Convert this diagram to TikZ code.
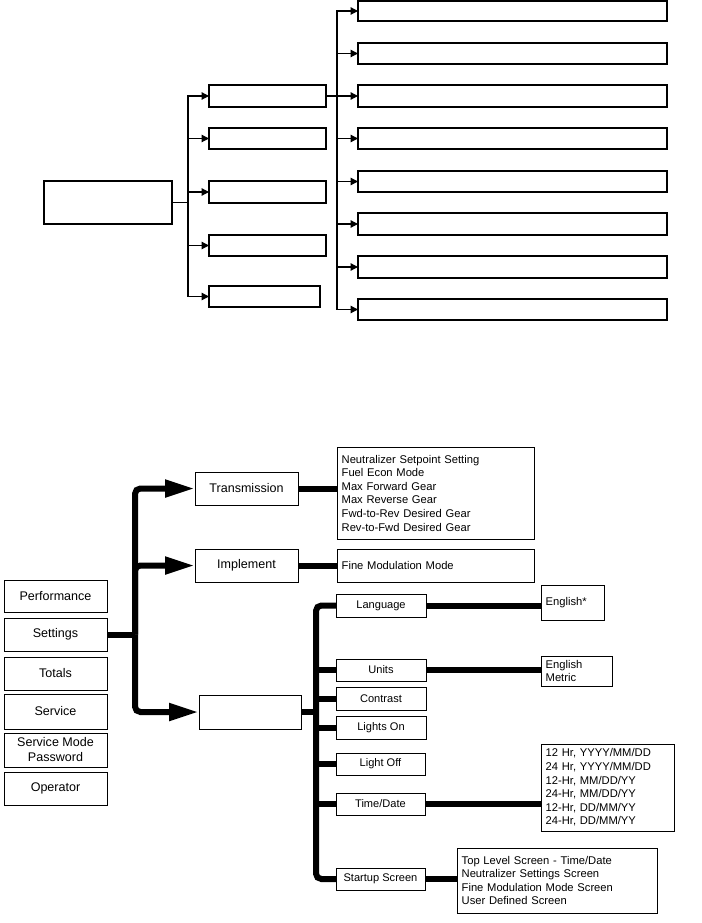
\documentclass[tikz,border=0pt]{standalone}
\usepackage{fontspec}
\setmainfont{Liberation Sans}
\usetikzlibrary{arrows.meta}
\newcommand\bx[7]{\node[#6, minimum width={(#4-#2)*0.75pt}, minimum height={(#5-#3)*0.75pt}] (#1) at ({(#2+#4)/2},{(#3+#5)/2}) {#7};}
\tikzset{
  tbox/.style={draw, line width=0.9pt, inner sep=0pt, outer sep=0pt},
  mbox/.style={draw, line width=0.75pt, inner sep=1pt, outer sep=0pt, font=\fontsize{9.4}{11.25}\selectfont, align=center},
  sbox/.style={mbox, font=\fontsize{8.3}{10}\selectfont},
  lbox/.style={draw, line width=0.75pt, inner xsep=3.5pt, inner ysep=1pt, outer sep=0pt, font=\fontsize{8.4}{10.2}\selectfont, align=left},
  tarrow/.style={line width=0.9pt, -{Triangle[length=5.5pt,width=5.5pt]}},
  thk/.style={line width=4.5pt},
  bigarrow/.style={thk, -{Triangle[length=21pt,width=14pt,line width=0pt]}, shorten >=1.5pt}
}
\begin{document}
\begin{tikzpicture}[x=0.75pt,y=-0.75pt]
\path[use as bounding box, fill=white] (0,0) rectangle (702,923);
% ---------- top diagram ----------
\bx{root}{44}{181}{172}{224}{tbox}{}
\bx{b1}{209}{85}{326}{107}{tbox}{}
\bx{b2}{209}{128}{326}{149}{tbox}{}
\bx{b3}{209}{181}{326}{203}{tbox}{}
\bx{b4}{209}{235}{326}{256}{tbox}{}
\bx{b5}{209}{286}{320}{307}{tbox}{}
\bx{c1}{358}{1}{667}{21}{tbox}{}
\bx{c2}{358}{43}{667}{64}{tbox}{}
\bx{c3}{358}{85}{667}{107}{tbox}{}
\bx{c4}{358}{128}{667}{149}{tbox}{}
\bx{c5}{358}{171}{667}{192}{tbox}{}
\bx{c6}{358}{213}{667}{235}{tbox}{}
\bx{c7}{358}{256}{667}{278}{tbox}{}
\bx{c8}{358}{299}{667}{320}{tbox}{}
\foreach \n in {b1,b2,b3,b4,b5}
  \draw[tarrow] (root.east) -- ++(16,0) |- (\n.west);
\foreach \n in {c1,c2,c3,c4,c5,c6,c7,c8}
  \draw[tarrow] (b1.east) -- ++(11,0) |- (\n.west);
% ---------- bottom diagram ----------
\bx{perf}{4}{580}{107}{612}{mbox}{Performance}
\bx{settings}{4}{618}{107}{651}{mbox}{Settings}
\bx{totals}{4}{657}{107}{690}{mbox}{Totals}
\bx{service}{4}{694}{107}{729}{mbox}{Service}
\bx{smp}{4}{733}{107}{767}{mbox}{Service Mode\\Password}
\bx{oper}{4}{772}{107}{805}{mbox}{Operator}
\bx{trans}{195}{472}{298}{505}{mbox}{Transmission}
\bx{impl}{195}{549}{298}{582}{mbox}{Implement}
\bx{empty}{199}{695}{301}{729}{mbox}{}
\bx{translist}{337}{447}{534}{539}{lbox,text width=140.75pt}{Neutralizer Setpoint Setting\\Fuel Econ Mode\\Max Forward Gear\\Max Reverse Gear\\Fwd-to-Rev Desired Gear\\Rev-to-Fwd Desired Gear}
\bx{finemod}{337}{549}{534}{582}{lbox,text width=140.75pt}{Fine Modulation Mode}
\bx{lang}{336}{594}{426}{617}{sbox}{Language}
\bx{units}{336}{659}{426}{681}{sbox}{Units}
\bx{contrast}{336}{687}{426}{710}{sbox}{Contrast}
\bx{lon}{336}{716}{426}{739}{sbox}{Lights On}
\bx{loff}{336}{753}{425}{775}{sbox}{Light Off}
\bx{td}{336}{793}{425}{815}{sbox}{Time/Date}
\bx{startup}{336}{868}{425}{890}{sbox}{Startup Screen}
\bx{eng}{541}{585}{604}{620}{lbox,text width=40.25pt}{English*}
\bx{engmet}{541}{656}{612}{686}{lbox,text width=46.25pt}{English\\Metric}
\bx{tdlist}{541}{744}{674}{831}{lbox,text width=92.75pt}{12 Hr, YYYY/MM/DD\\24 Hr, YYYY/MM/DD\\12-Hr, MM/DD/YY\\24-Hr, MM/DD/YY\\12-Hr, DD/MM/YY\\24-Hr, DD/MM/YY}
\bx{sslist}{457}{848}{657}{913}{lbox,text width=143pt}{Top Level Screen - Time/Date\\Neutralizer Settings Screen\\Fine Modulation Mode Screen\\User Defined Screen}
% connectors
\coordinate (jx) at (135,0);
\coordinate (j) at (settings.east -| jx);
\draw[thk] (settings.east) -- (j);
\draw[bigarrow, rounded corners=4pt] (j) |- (trans.west);
\draw[bigarrow, rounded corners=4pt] (j) |- (impl.west);
\draw[bigarrow, rounded corners=4pt] (j) |- (empty.west);
\draw[thk] (trans.east) -- (trans.east -| translist.west);
\draw[thk] (impl.east) -- (impl.east -| finemod.west);
\coordinate (vx) at (316,0);
\coordinate (v) at (empty.east -| vx);
\draw[thk] (empty.east) -- (v);
\draw[thk, rounded corners=4pt] (lang.west) -| (v) |- (startup.west);
\foreach \n in {units,contrast,lon,loff,td}
  \draw[thk] (\n.west -| v) -- (\n.west);
\draw[thk] (lang.east) -- (lang.east -| eng.west);
\draw[thk] (units.east) -- (units.east -| engmet.west);
\draw[thk] (td.east) -- (td.east -| tdlist.west);
\draw[thk] (startup.east) -- (startup.east -| sslist.west);
\end{tikzpicture}
\end{document}
